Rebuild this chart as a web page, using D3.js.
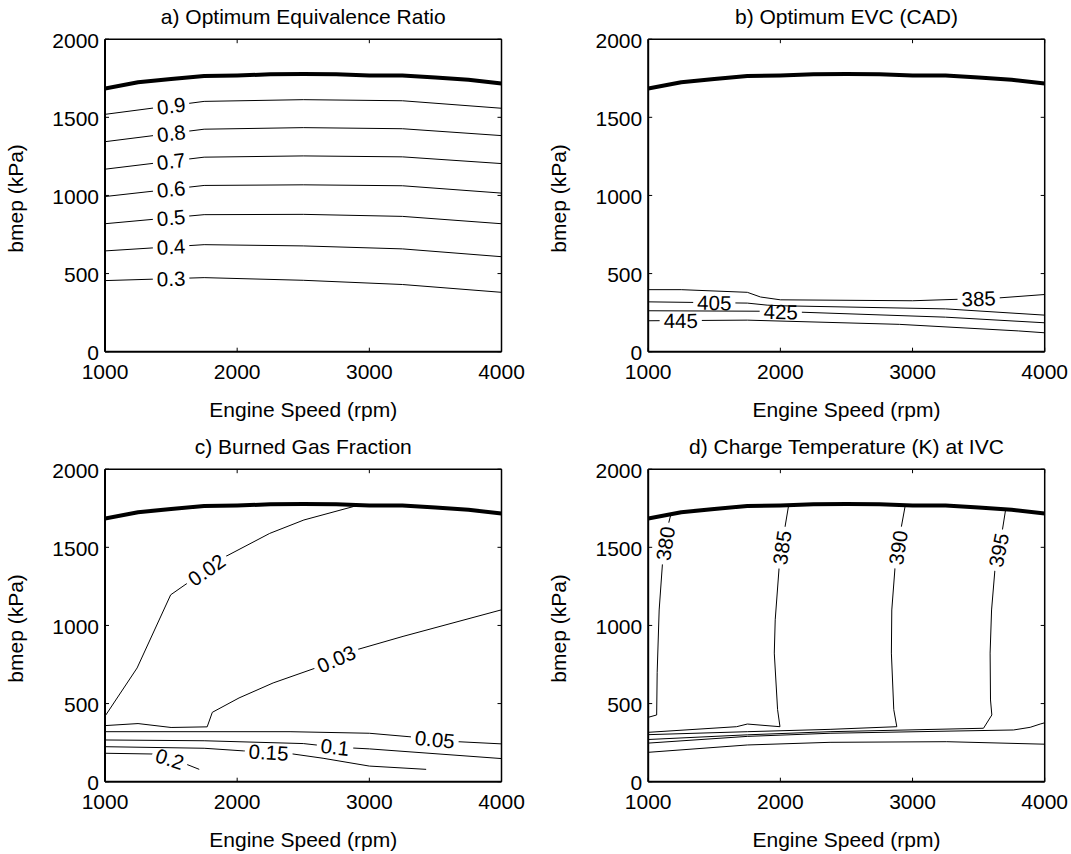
<!DOCTYPE html>
<html><head><meta charset="utf-8">
<script src="https://cdn.jsdelivr.net/npm/d3@7"></script>
<style>
body{margin:0;background:#fff}
svg{display:block}
text{font-family:"Liberation Sans",Arial,Helvetica,sans-serif;fill:#000}
</style>
</head><body>
<svg id="chart" width="1071" height="854"></svg>
<script>
// ---------- data ----------
const xTicks = [1000, 2000, 3000, 4000];
const yTicks = [0, 500, 1000, 1500, 2000];
const titles = ["a) Optimum Equivalence Ratio", "b) Optimum EVC (CAD)", "c) Burned Gas Fraction", "d) Charge Temperature (K) at IVC"];
const xLabel = "Engine Speed (rpm)";
const yLabel = "bmep (kPa)";

// full-load (max bmep) curve: [rpm, kPa]
const boundary = [[1000,1685],[1250,1725],[1500,1745],[1750,1765],[2000,1768],[2250,1775],[2500,1777],[2750,1775],[3000,1768],[3250,1768],[3500,1755],[3750,1740],[4000,1717]];

// a) equivalence ratio contours
const phiLevels = ["0.9","0.8","0.7","0.6","0.5","0.4","0.3"];
const phiLines = [
  [[1000,1519],[1750,1602],[2500,1613],[3250,1606],[4000,1558]],
  [[1000,1344],[1750,1424],[2500,1434],[3250,1427],[4000,1383]],
  [[1000,1168],[1750,1245],[2500,1253],[3250,1247],[4000,1204]],
  [[1000,993],[1750,1064],[2500,1068],[3250,1062],[4000,1015]],
  [[1000,819],[1750,877],[2500,879],[3250,866],[4000,819]],
  [[1000,645],[1750,685],[2500,677],[3250,658],[4000,608]],
  [[1000,455],[1750,474],[2500,457],[3250,430],[4000,380]]
];
const phiLabelAt = [[1500,1575],[1500,1400],[1500,1220],[1500,1040],[1500,855],[1500,670],[1500,468]];

// b) EVC contours (CAD)
const evcLevels = ["385","405","425","445"];
const evcLines = [
  [[1000,397],[1250,397],[1750,380],[1850,350],[2000,332],[3000,326],[3400,337],[3650,344],[4000,366]],
  [[1000,319],[1750,311],[1900,298],[2000,294],[3250,274],[4000,234]],
  [[1000,262],[1850,259],[2150,253],[3250,221],[4000,185]],
  [[1000,198],[1400,200],[1750,202],[2900,175],[3800,133],[4000,121]]
];
const evcLabelAt = [[3500,340],[1500,316],[2003,256],[1246,199]];

// c) burned gas fraction contours
const bgfLevels = ["0.02","0.03","0.05","0.1","0.15","0.2"];
const bgfLines = [
  [[1000,419],[1243,728],[1497,1196],[1910,1440],[2246,1589],[2505,1675],[2893,1764]],
  [[1000,359],[1250,372],[1500,347],[1773,351],[1812,444],[2014,536],[2272,632],[2595,728],[2906,845],[3255,930],[4000,1100]],
  [[1000,320],[2400,320],[3000,310],[3300,288],[3670,256],[4000,242]],
  [[1000,267],[1750,262],[2500,244],[2750,221],[3000,210],[4000,148]],
  [[1000,224],[1750,214],[2050,197],[2400,180],[2650,150],[3000,100],[3430,79]],
  [[1000,182],[1378,177],[1612,113],[1713,79]]
];
const bgfLabelAt = [[1768,1356],[2750,786],[3494,262],[2740,221],[2238,185],[1491,146]];

// d) charge temperature at IVC (K)
const tempLevels = ["380","385","390","395","400","405"];
const tempLines = [
  [[1172,1712],[1151,1643],[1109,1408],[1083,1099],[1068,700],[1064,427],[1000,412]],
  [[2062,1766],[2031,1609],[1992,1387],[1961,1036],[1954,823],[1979,461],[1997,352],[1750,369],[1669,352],[1000,316]],
  [[2945,1768],[2911,1611],[2868,1376],[2843,1099],[2840,823],[2858,461],[2881,352],[2376,335],[1750,320],[1000,301]],
  [[3705,1745],[3676,1590],[3625,1372],[3598,1099],[3587,823],[3590,523],[3600,427],[3537,342],[2376,320],[1750,300],[1000,270]],
  [[4000,377],[3966,369],[3890,348],[3764,331],[2376,310],[1750,290],[1000,247]],
  [[4000,240],[3259,256],[2376,252],[1750,235],[1000,188]]
];
const tempLabelAt = [[1128,1525],[2012,1498],[2885,1499],[3650,1482],null,null];

// ---------- layout ----------
const svg = d3.select("#chart");
const W = 396.5, H = 312.5;
const FS = 21;     // axes text
const LFS = 20.5;  // contour labels
const panels = [
  {x0:105,   y0:39.2,  title:titles[0], levels:phiLevels,  lines:phiLines,  labels:phiLabelAt},
  {x0:648.2, y0:39.2,  title:titles[1], levels:evcLevels,  lines:evcLines,  labels:evcLabelAt},
  {x0:105,   y0:469.2, title:titles[2], levels:bgfLevels,  lines:bgfLines,  labels:bgfLabelAt},
  {x0:648.2, y0:469.2, title:titles[3], levels:tempLevels, lines:tempLines, labels:tempLabelAt}
];
const defs = svg.append("defs");
let maskId = 0;

function projectOn(pts, p) {
  let best = null;
  for (let i = 0; i < pts.length - 1; i++) {
    const a = pts[i], b = pts[i+1];
    const dx = b[0]-a[0], dy = b[1]-a[1];
    let t = ((p[0]-a[0])*dx + (p[1]-a[1])*dy) / (dx*dx + dy*dy);
    t = Math.max(0, Math.min(1, t));
    const q = [a[0]+t*dx, a[1]+t*dy];
    const d = Math.hypot(q[0]-p[0], q[1]-p[1]);
    if (!best || d < best.d) {
      let ang = Math.atan2(dy, dx) * 180 / Math.PI;
      if (ang > 90) ang -= 180;
      if (ang < -90) ang += 180;
      best = {d, q, ang};
    }
  }
  return best;
}

panels.forEach((P, pi) => {
  const x = d3.scaleLinear().domain([1000, 4000]).range([P.x0, P.x0 + W]);
  const y = d3.scaleLinear().domain([0, 2000]).range([P.y0 + H, P.y0]);
  const g = svg.append("g");

  const clipId = "clip" + pi;
  defs.append("clipPath").attr("id", clipId)
    .append("rect").attr("x", P.x0).attr("y", P.y0).attr("width", W).attr("height", H);

  const line = d3.line().x(d => x(d[0])).y(d => y(d[1]));
  const plot = g.append("g").attr("clip-path", `url(#${clipId})`);
  const labelG = g.append("g");

  // contours
  P.lines.forEach((pts, i) => {
    const path = plot.append("path").datum(pts)
      .attr("d", line).attr("fill", "none").attr("stroke", "#000")
      .attr("stroke-width", 1).attr("stroke-linejoin", "round");
    const at = P.labels[i];
    if (!at) return;
    const pix = pts.map(d => [x(d[0]), y(d[1])]);
    const pr = projectOn(pix, [x(at[0]), y(at[1])]);
    const t = labelG.append("text")
      .attr("transform", `translate(${pr.q[0]},${pr.q[1]}) rotate(${pr.ang})`)
      .attr("text-anchor", "middle").attr("dy", "0.36em")
      .attr("font-size", LFS).text(P.levels[i]);
    const w = t.node().getComputedTextLength() + 8;
    const id = "m" + (maskId++);
    const m = defs.append("mask").attr("id", id).attr("maskUnits", "userSpaceOnUse")
      .attr("x", 0).attr("y", 0).attr("width", 1071).attr("height", 854);
    m.append("rect").attr("x", 0).attr("y", 0).attr("width", 1071).attr("height", 854).attr("fill", "#fff");
    m.append("rect").attr("x", -w/2).attr("y", -9).attr("width", w).attr("height", 18)
      .attr("transform", `translate(${pr.q[0]},${pr.q[1]}) rotate(${pr.ang})`).attr("fill", "#000");
    path.attr("mask", `url(#${id})`);
  });

  // full-load curve
  plot.append("path").datum(boundary).attr("d", line)
    .attr("fill", "none").attr("stroke", "#000").attr("stroke-width", 4).attr("stroke-linejoin", "round");

  // frame
  g.append("line").attr("x1", P.x0).attr("x2", P.x0 + W).attr("y1", P.y0).attr("y2", P.y0).attr("stroke", "#000").attr("stroke-width", 1.5);
  g.append("line").attr("x1", P.x0 + W).attr("x2", P.x0 + W).attr("y1", P.y0).attr("y2", P.y0 + H).attr("stroke", "#000").attr("stroke-width", 1.5);
  g.append("line").attr("x1", P.x0).attr("x2", P.x0 + W).attr("y1", P.y0 + H).attr("y2", P.y0 + H).attr("stroke", "#000").attr("stroke-width", 2);
  g.append("line").attr("x1", P.x0).attr("x2", P.x0).attr("y1", P.y0).attr("y2", P.y0 + H).attr("stroke", "#000").attr("stroke-width", 2);

  // ticks (inward, all four sides)
  const TL = 4;
  xTicks.forEach(v => {
    g.append("line").attr("x1", x(v)).attr("x2", x(v)).attr("y1", P.y0 + H).attr("y2", P.y0 + H - TL).attr("stroke", "#000");
    g.append("line").attr("x1", x(v)).attr("x2", x(v)).attr("y1", P.y0).attr("y2", P.y0 + TL).attr("stroke", "#000");
    g.append("text").attr("x", x(v)).attr("y", P.y0 + H + 27).attr("text-anchor", "middle")
      .attr("font-size", FS).text(v);
  });
  yTicks.forEach(v => {
    g.append("line").attr("x1", P.x0).attr("x2", P.x0 + TL).attr("y1", y(v)).attr("y2", y(v)).attr("stroke", "#000");
    g.append("line").attr("x1", P.x0 + W).attr("x2", P.x0 + W - TL).attr("y1", y(v)).attr("y2", y(v)).attr("stroke", "#000");
    g.append("text").attr("x", P.x0 - 6).attr("y", y(v) + 8.5).attr("text-anchor", "end")
      .attr("font-size", FS).text(v);
  });

  // titles and axis labels
  g.append("text").attr("x", P.x0 + W/2).attr("y", P.y0 - 15).attr("text-anchor", "middle")
    .attr("font-size", FS).text(P.title);
  g.append("text").attr("x", P.x0 + W/2).attr("y", P.y0 + H + 65).attr("text-anchor", "middle")
    .attr("font-size", FS).text(xLabel);
  g.append("text").attr("transform", `translate(${P.x0 - 82},${P.y0 + H/2 + 3}) rotate(-90)`)
    .attr("text-anchor", "middle").attr("font-size", FS).text(yLabel);
});
</script>
</body></html>
